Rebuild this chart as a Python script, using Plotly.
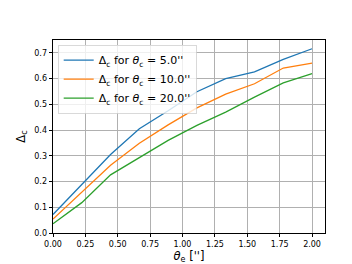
import plotly.graph_objects as go

theta_e = [0.0, 0.2222, 0.4444, 0.6667, 0.8889, 1.1111, 1.3333, 1.5556, 1.7778, 2.0]
delta_5 = [0.072, 0.19, 0.305, 0.405, 0.475, 0.549, 0.60, 0.626, 0.675, 0.716]
delta_10 = [0.054, 0.16, 0.263, 0.349, 0.42, 0.486, 0.54, 0.58, 0.641, 0.66]
delta_20 = [0.036, 0.118, 0.226, 0.292, 0.36, 0.418, 0.47, 0.528, 0.583, 0.619]
names = ["Δ<sub>c</sub> for <i>θ</i><sub>c</sub> = 5.0''",
         "Δ<sub>c</sub> for <i>θ</i><sub>c</sub> = 10.0''",
         "Δ<sub>c</sub> for <i>θ</i><sub>c</sub> = 20.0''"]
colors = ["#1f77b4", "#ff7f0e", "#2ca02c"]
xticks = [0, 0.25, 0.5, 0.75, 1.0, 1.25, 1.5, 1.75, 2.0]
yticks = [0, 0.1, 0.2, 0.3, 0.4, 0.5, 0.6, 0.7]

fig = go.Figure()
for ys, n, c in zip([delta_5, delta_10, delta_20], names, colors):
    fig.add_trace(go.Scatter(x=theta_e, y=ys, mode="lines", name=n,
                             line=dict(color=c, width=1.3)))

axis_common = dict(showline=True, linecolor="black", linewidth=0.8, mirror=True,
                   ticks="outside", ticklen=3.5, tickwidth=0.8, tickcolor="black",
                   showgrid=True, gridcolor="#b0b0b0", gridwidth=0.8,
                   zeroline=False, tickfont=dict(family="DejaVu Sans", size=8, color="black"))
fig.update_xaxes(range=[0, 2.1], tickvals=xticks,
                 ticktext=[f"{v:.2f}" for v in xticks],
                 title=dict(text="<i>θ</i><sub>e</sub> ['']", font=dict(family="DejaVu Sans", size=11.5, color="black"), standoff=3),
                 **axis_common)
fig.update_yaxes(range=[0, 0.75], tickvals=yticks,
                 ticktext=[f"{v:.1f}" for v in yticks],
                 title=dict(text="Δ<sub>c</sub>", font=dict(family="DejaVu Sans", size=11.5, color="black"), standoff=6),
                 **axis_common)
fig.update_layout(width=352, height=264, margin=dict(l=44, r=35, t=32, b=29),
                  plot_bgcolor="white", paper_bgcolor="white",
                  font=dict(family="DejaVu Sans", color="black"),
                  legend=dict(x=0.018, y=0.975, xanchor="left", yanchor="top",
                              bgcolor="rgba(255,255,255,0.8)", bordercolor="#d0d0d0", borderwidth=0.8,
                              font=dict(family="DejaVu Sans", size=11, color="black"),
                              tracegroupgap=0, itemwidth=30))
fig.write_html("out.html")
